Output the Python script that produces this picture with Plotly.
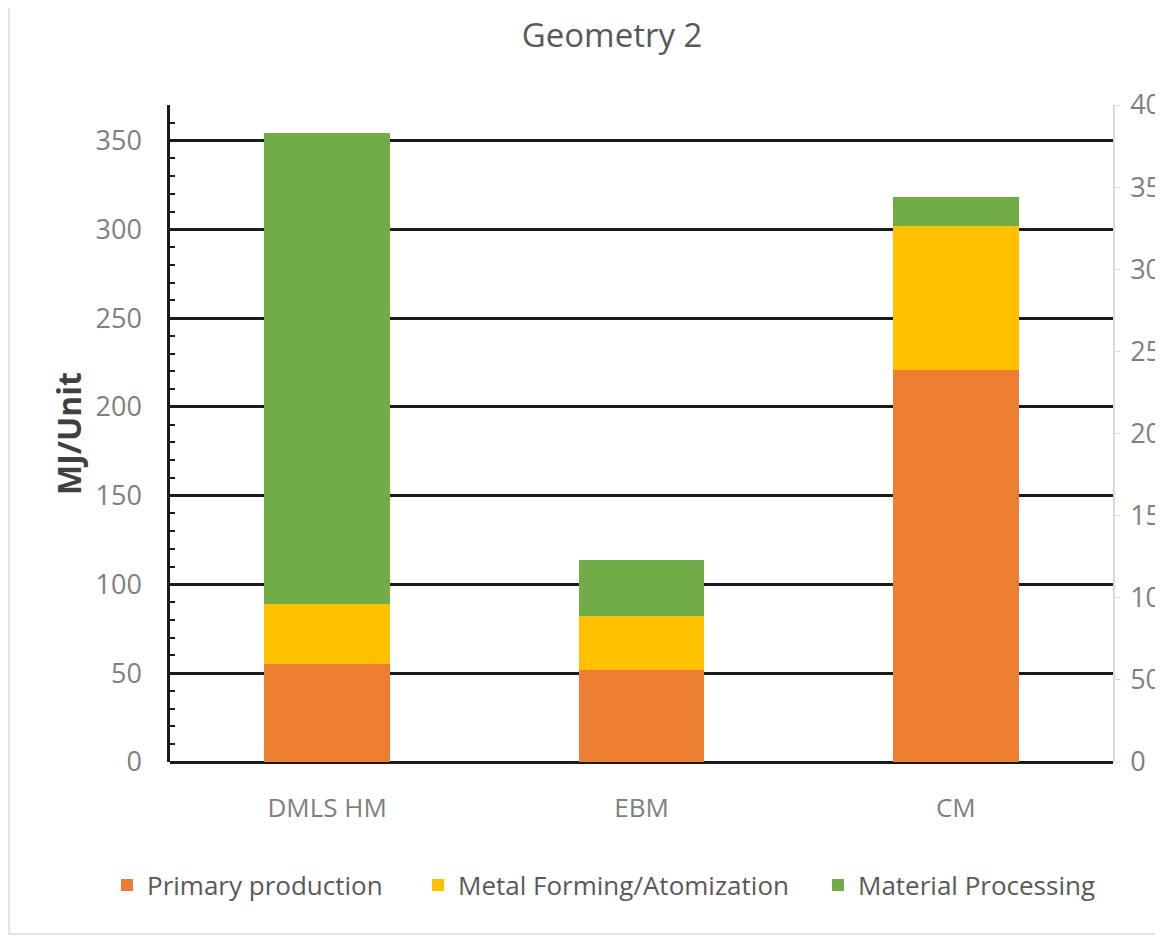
import plotly.graph_objects as go

categories = ["DMLS HM", "EBM", "CM"]
primary_production = [55, 52, 221]
metal_forming = [34, 30, 81]
material_processing = [265, 32, 16]
series_names = ["Primary production", "Metal Forming/Atomization", "Material Processing"]
series_colors = ["#ED7D31", "#FFC000", "#70AD47"]
left_ticks = [0, 50, 100, 150, 200, 250, 300, 350]
right_ticks = [0, 50, 100, 150, 200, 250, 300, 350, 400]

FONT = "Open Sans"
PLOT_L, PLOT_R, PLOT_T, PLOT_B = 170, 1113, 105, 762
legend_ids = ["legend", "legend2", "legend3"]
legend_text_x = [147, 458, 858]

fig = go.Figure()
for name, vals, col, lg in zip(series_names, [primary_production, metal_forming, material_processing],
                               series_colors, legend_ids):
    fig.add_trace(go.Bar(x=categories, y=vals, name=name, legend=lg,
                         marker=dict(color=col, line=dict(width=0))))

# secondary axis carrier (no marks)
fig.add_trace(go.Scatter(x=categories, y=[None, None, None], yaxis="y2", showlegend=False,
                         hoverinfo="skip", mode="lines"))

pw = PLOT_R - PLOT_L
ph = PLOT_B - PLOT_T
legends = {}
for lg, tx in zip(legend_ids, legend_text_x):
    legends[lg] = dict(orientation="h", x=(tx - 40 - PLOT_L) / pw, xanchor="left",
                       y=-(885 - PLOT_B) / ph, yanchor="middle",
                       font=dict(family=FONT, size=26, color="#595959"), itemwidth=30,
                       bgcolor="rgba(0,0,0,0)")

# faint chart-area border (left and bottom edges visible in the reference)
border_x = (9 - PLOT_L) / pw
border_y = -(934 - PLOT_B) / ph
shapes = [
    dict(type="line", xref="paper", yref="paper", x0=border_x, x1=border_x, y0=border_y, y1=1 + (PLOT_T - 0) / ph,
         line=dict(color="#E3E3E3", width=2)),
    dict(type="line", xref="paper", yref="paper", x0=border_x, x1=1 + 60 / pw, y0=border_y, y1=border_y,
         line=dict(color="#E3E3E3", width=2)),
]

fig.update_layout(
    width=1155, height=929,
    barmode="stack", bargap=0.6,
    plot_bgcolor="white", paper_bgcolor="white",
    margin=dict(l=PLOT_L - 8, r=1163 - PLOT_R, t=PLOT_T - 8, b=937 - PLOT_B),
    title=dict(text="Geometry 2", x=0.523, xanchor="center", y=1 - 27 / 929, yanchor="middle",
               font=dict(family=FONT, size=33, color="#595959")),
    font=dict(family=FONT, color="#7F7F7F"),
    shapes=shapes,
    xaxis=dict(showgrid=False, showline=False, ticks="", ticklabelstandoff=28,
               tickfont=dict(size=26, color="#7F7F7F")),
    yaxis=dict(range=[0, 370], tickvals=left_ticks, showgrid=True, gridcolor="#1a1a1a", gridwidth=2.5,
               zeroline=True, zerolinecolor="#1a1a1a", zerolinewidth=2.5,
               showline=True, linecolor="#1a1a1a", linewidth=2.5, ticks="inside", ticklen=6,
               tickcolor="#1a1a1a", tickwidth=2, ticklabelstandoff=20,
               minor=dict(dtick=10, ticks="inside", ticklen=5, tickcolor="#1a1a1a", tickwidth=1.5, showgrid=False),
               tickfont=dict(size=27, color="#7F7F7F"),
               title=dict(text="<b>MJ/Unit</b>", font=dict(size=32, color="#404040"), standoff=5)),
    yaxis2=dict(range=[0, 400], tickvals=right_ticks, overlaying="y", side="right", showgrid=False,
                zeroline=False, showline=True, linecolor="#D9D9D9", linewidth=1.5, ticks="outside",
                ticklen=5, tickcolor="#D9D9D9", automargin=False, ticklabelstandoff=5,
                tickfont=dict(size=27, color="#7F7F7F")),
    **legends,
)
fig.write_html("out.html")
